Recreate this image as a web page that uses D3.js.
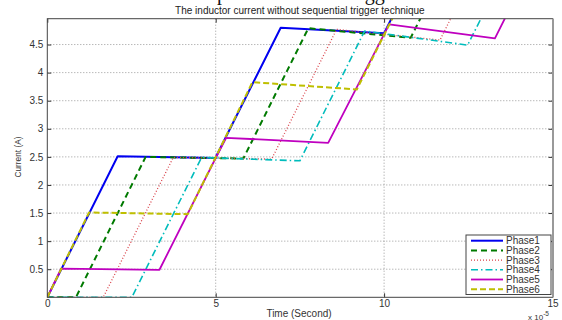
<!DOCTYPE html>
<html>
<head>
<meta charset="utf-8">
<script src="https://cdn.jsdelivr.net/npm/d3@7"></script>
<style>
  body { margin: 0; background: #fff; }
  svg { display: block; font-family: Arial, "Liberation Sans", sans-serif; }
</style>
</head>
<body>
<svg width="562" height="320"></svg>
<script>
// Data (time in units of 1e-5 s, current in A)
const phaseNames = ["Phase1", "Phase2", "Phase3", "Phase4", "Phase5", "Phase6"];
const phase1Time = [0, 2.09, 4.99, 6.93, 10.0, 10.35];
const phase1Current = [0, 2.51, 2.48, 4.80, 4.70, 5.12];
const phase2Time = [0, 0.85, 2.92, 5.82, 7.75, 10.79, 11.19];
const phase2Current = [0, 0, 2.50, 2.47, 4.79, 4.62, 5.10];
const phase3Time = [0, 1.66, 3.74, 6.66, 8.59, 11.66, 12.1];
const phase3Current = [0, 0, 2.49, 2.46, 4.77, 4.58, 5.11];
const phase4Time = [0, 2.51, 4.58, 7.50, 9.42, 12.48, 13.0];
const phase4Current = [0, 0, 2.49, 2.43, 4.74, 4.49, 5.11];
const phase5Time = [0, 0.41, 3.33, 5.00, 5.31, 8.34, 10.15, 13.29, 13.7];
const phase5Current = [0, 0.51, 0.49, 2.48, 2.84, 2.75, 4.86, 4.61, 5.10];
const phase6Time = [0, 1.24, 4.17, 6.09, 9.19, 10.35];
const phase6Current = [0, 1.51, 1.48, 3.83, 3.70, 5.09];
const timeTicks = [0, 5, 10, 15];
const currentTicks = [0.5, 1, 1.5, 2, 2.5, 3, 3.5, 4, 4.5];

const times = [phase1Time, phase2Time, phase3Time, phase4Time, phase5Time, phase6Time];
const currents = [phase1Current, phase2Current, phase3Current, phase4Current, phase5Current, phase6Current];

// MATLAB-ish line styles
const styles = [
  { color: "#0000f0", width: 2, dash: null },
  { color: "#007a00", width: 2, dash: "6,4" },
  { color: "#d9434b", width: 1.3, dash: "1,2" },
  { color: "#00bcbc", width: 1.6, dash: "7,3,1.5,3" },
  { color: "#bf00bf", width: 1.8, dash: null },
  { color: "#bfbf00", width: 2, dash: "6,3" }
];

const plotLeft = 47.3, plotRight = 552.5, plotTop = 18.7, plotBottom = 297.3;
const svg = d3.select("svg");

const x = d3.scaleLinear().domain([0, 15]).range([plotLeft, plotRight]);
const y = d3.scaleLinear().domain([0, 4.96]).range([plotBottom, plotTop]);

// Big title, mostly cut off by the top edge (only descenders show)
svg.append("text")
  .attr("x", 178).attr("y", 0.4)
  .style("font-family", "'Liberation Serif', 'Times New Roman', serif")
  .style("font-size", "20px")
  .attr("fill", "#111")
  .text("Comparison without trigger");

svg.append("text")
  .attr("x", (plotLeft + plotRight) / 2).attr("y", 14)
  .attr("text-anchor", "middle")
  .style("font-size", "10px")
  .attr("fill", "#222")
  .text("The inductor current without sequential trigger technique");

// Grid
const grid = svg.append("g").attr("stroke", "#9a9a9a").attr("stroke-dasharray", "1,2").attr("stroke-width", 1);
grid.selectAll("line.v").data(timeTicks.slice(1, -1)).enter().append("line")
  .attr("x1", (d) => x(d)).attr("x2", (d) => x(d)).attr("y1", plotTop).attr("y2", plotBottom);
grid.selectAll("line.h").data(currentTicks).enter().append("line")
  .attr("y1", (d) => y(d)).attr("y2", (d) => y(d)).attr("x1", plotLeft).attr("x2", plotRight);

// Axes (ticks inward, like MATLAB)
const axisColor = "#333";
const yAxis = svg.append("g").attr("transform", `translate(${plotLeft},0)`)
  .call(d3.axisLeft(y).tickValues(currentTicks).tickSize(-4).tickPadding(4).tickFormat(d3.format("")));
const yAxisR = svg.append("g").attr("transform", `translate(${plotRight},0)`)
  .call(d3.axisRight(y).tickValues(currentTicks).tickSize(-4).tickFormat(""));
const xAxis = svg.append("g").attr("transform", `translate(0,${plotBottom})`)
  .call(d3.axisBottom(x).tickValues(timeTicks).tickSize(-4).tickPadding(3).tickFormat(d3.format("")));
const xAxisT = svg.append("g").attr("transform", `translate(0,${plotTop})`)
  .call(d3.axisTop(x).tickValues(timeTicks).tickSize(-4).tickFormat(""));
[yAxis, yAxisR, xAxis, xAxisT].forEach((g) => {
  g.select(".domain").remove();
  g.selectAll("line").attr("stroke", axisColor);
  g.selectAll("text").style("font-size", "10px").style("font-family", "Arial, 'Liberation Sans', sans-serif").attr("fill", "#333");
});

// Phase lines
svg.append("clipPath").attr("id", "plotClip").append("rect")
  .attr("x", plotLeft).attr("y", plotTop).attr("width", plotRight - plotLeft).attr("height", plotBottom - plotTop);

const line = d3.line().x((d) => x(d[0])).y((d) => y(d[1]));
const plot = svg.append("g").attr("clip-path", "url(#plotClip)");
times.forEach((t, i) => {
  const pts = t.map((v, j) => [v, currents[i][j]]);
  plot.append("path")
    .datum(pts)
    .attr("d", line)
    .attr("fill", "none")
    .attr("stroke", styles[i].color)
    .attr("stroke-width", styles[i].width)
    .attr("stroke-dasharray", styles[i].dash)
    .attr("stroke-linejoin", "round");
});

// Axes box
svg.append("rect")
  .attr("x", plotLeft).attr("y", plotTop).attr("width", plotRight - plotLeft).attr("height", plotBottom - plotTop)
  .attr("fill", "none").attr("stroke", "#444").attr("stroke-width", 1);
svg.append("line")
  .attr("x1", plotRight + 0.5).attr("x2", plotRight + 0.5).attr("y1", plotTop).attr("y2", plotBottom)
  .attr("stroke", "#999").attr("stroke-width", 2);

// Axis labels
svg.append("text")
  .attr("x", 299).attr("y", 317)
  .attr("text-anchor", "middle")
  .style("font-size", "10px").attr("fill", "#333")
  .text("Time (Second)");

svg.append("text")
  .attr("transform", "translate(21,157) rotate(-90)")
  .attr("text-anchor", "middle")
  .style("font-size", "9px").attr("fill", "#333")
  .attr("textLength", 41).attr("lengthAdjust", "spacingAndGlyphs")
  .text("Current (A)");

const expo = svg.append("text").attr("x", 528).attr("y", 319.5)
  .style("font-size", "8px").attr("fill", "#333");
expo.append("tspan").text("x 10");
expo.append("tspan").attr("dy", -4).style("font-size", "6.5px").text("-5");

// Legend
const legend = svg.append("g");
legend.append("rect")
  .attr("x", 466).attr("y", 235).attr("width", 85).attr("height", 59.5)
  .attr("fill", "#fff").attr("stroke", "#444").attr("stroke-width", 1);
phaseNames.forEach((name, i) => {
  const ly = 240.7 + i * 9.7;
  legend.append("line")
    .attr("x1", 471).attr("x2", 503).attr("y1", ly).attr("y2", ly)
    .attr("stroke", styles[i].color)
    .attr("stroke-width", styles[i].width)
    .attr("stroke-dasharray", styles[i].dash);
  legend.append("text")
    .attr("x", 506).attr("y", ly + 3.5)
    .style("font-size", "10px").attr("fill", "#333")
    .text(name);
});
</script>
</body>
</html>
